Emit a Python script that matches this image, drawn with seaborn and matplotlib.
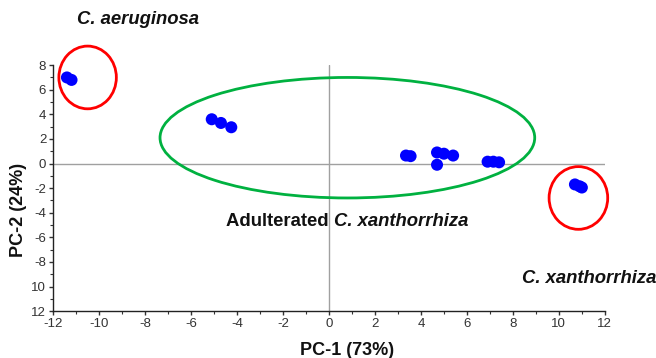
import pandas as pd
import matplotlib.pyplot as plt
import seaborn as sns
from matplotlib.patches import Ellipse

# PCA score values
pc1 = [-11.4, -11.2,
       -5.1, -4.7, -4.25,
       3.35, 3.55, 4.7, 5.0, 5.4, 4.7, 6.9, 7.15, 7.4,
       10.7, 10.9, 11.0]
pc2 = [7.0, 6.8,
       3.6, 3.3, 2.95,
       0.65, 0.6, 0.9, 0.8, 0.65, -0.1, 0.15, 0.15, 0.1,
       -1.7, -1.85, -1.95]

# group ellipses (centre x, centre y, width, height, colour)
ellipse_x = [-10.5, 0.8, 10.85]
ellipse_y = [7.0, 2.1, -2.8]
ellipse_w = [2.5, 16.3, 2.55]
ellipse_h = [5.1, 9.8, 5.1]
ellipse_c = ['#ff0000', '#00b140', '#ff0000']

x_ticks = list(range(-12, 13, 2))
y_ticks = list(range(-12, 9, 2))
y_labels = ['12', '10', '-8', '-6', '-4', '-2', '0', '2', '4', '6', '8']

df = pd.DataFrame({'PC1': pc1, 'PC2': pc2})

sns.set_style('white')
plt.rcParams['font.family'] = ['Liberation Sans', 'DejaVu Sans']
plt.rcParams['axes.unicode_minus'] = False

fig = plt.figure(figsize=(6.56, 3.58), dpi=100)
ax = fig.add_axes([0.081, 0.131, 0.841, 0.687])

ax.axhline(0, color='#a0a0a0', lw=1, zorder=1)
ax.axvline(0, color='#a0a0a0', lw=1, zorder=1)

for cx, cy, w, h, c in zip(ellipse_x, ellipse_y, ellipse_w, ellipse_h, ellipse_c):
    ax.add_patch(Ellipse((cx, cy), w, h, fill=False, edgecolor=c, lw=2,
                         zorder=2, clip_on=False))

sns.scatterplot(data=df, x='PC1', y='PC2', color='#0000ff', s=75,
                edgecolor='none', ax=ax, zorder=3, clip_on=False)

ax.set_xlim(-12, 12)
ax.set_ylim(-12, 8)
ax.set_xticks(x_ticks)
ax.set_yticks(y_ticks)
ax.set_yticklabels(y_labels)
ax.set_xticks(range(-12, 13), minor=True)
ax.set_yticks(range(-12, 9), minor=True)
ax.tick_params(which='major', direction='out', length=3, width=1, colors='#333333',
               labelsize=9.5, labelcolor='#333333', bottom=True, left=True, pad=2)
ax.tick_params(which='minor', direction='out', length=2, width=0.8, colors='#333333',
               bottom=True, left=True)
for side in ['top', 'right']:
    ax.spines[side].set_visible(False)
for side in ['left', 'bottom']:
    ax.spines[side].set_color('#222222')
    ax.spines[side].set_linewidth(1)

ax.set_xlabel('PC-1 (73%)', fontsize=13, fontweight='bold', color='#111111')
ax.set_ylabel('PC-2 (24%)', fontsize=13, fontweight='bold', color='#111111')
ax.xaxis.set_label_coords(0.533, -0.125)
ax.yaxis.set_label_coords(-0.047, 0.41)

ax.text(-8.3, 11.7, 'C. aeruginosa', fontsize=13.3, fontweight='bold', style='italic',
        ha='center', va='center', clip_on=False, color='#111111')
t = ax.text(-4.48, -4.7, 'Adulterated ', fontsize=13.3, fontweight='bold',
            ha='left', va='center', color='#111111')
ax.annotate('C. xanthorrhiza', xy=(1, 0.5), xycoords=t, fontsize=13.3, fontweight='bold',
            style='italic', ha='left', va='center', color='#111111')
ax.text(8.4, -9.35, 'C. xanthorrhiza', fontsize=13.3, fontweight='bold', style='italic',
        ha='left', va='center', clip_on=False, color='#111111')

plt.savefig('out.png', dpi=100)
